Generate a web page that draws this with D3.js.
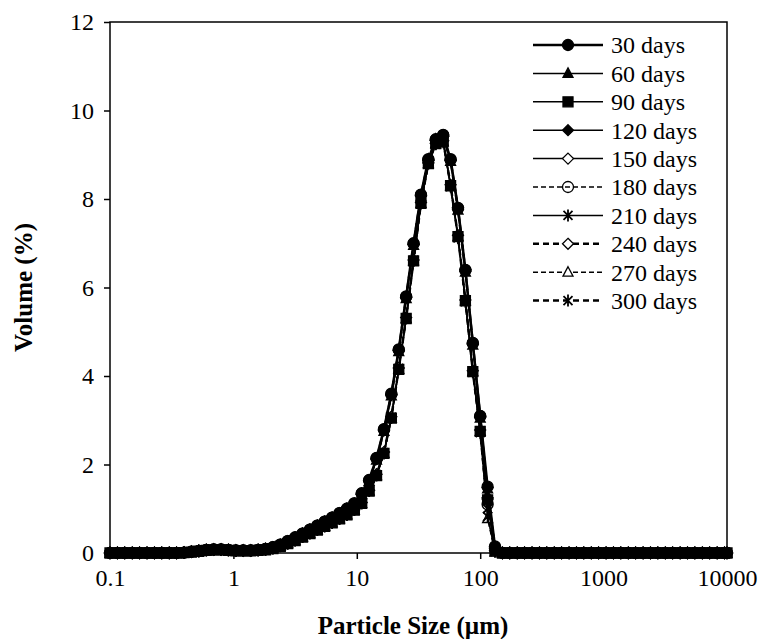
<!DOCTYPE html>
<html>
<head>
<meta charset="utf-8">
<script src="https://cdn.jsdelivr.net/npm/d3@7"></script>
<style>
  body { margin: 0; background: #fff; }
  svg { display: block; font-family: "Liberation Serif", "Times New Roman", serif; }
</style>
</head>
<body>
<div id="chart"></div>
<script>
// particle size classes (um)
var sizes = [0.1,0.1148,0.1318,0.1514,0.1738,0.1995,0.2291,0.2630,0.3020,0.3467,
  0.3981,0.4571,0.5248,0.6026,0.6918,0.7943,0.9120,1.047,1.202,1.380,
  1.585,1.820,2.089,2.399,2.754,3.162,3.631,4.169,4.786,5.495,
  6.310,7.244,8.318,9.550,10.96,12.59,14.45,16.60,19.05,21.88,
  25.12,28.84,33.11,38.02,43.65,50.12,57.54,66.07,75.86,87.10,
  100.0,114.8,131.8,151.4,173.8,199.5,229.1,263.0,302.0,346.7,
  398.1,457.1,524.8,602.6,691.8,794.3,912.0,1047,1202,1380,
  1585,1820,2089,2399,2754,3162,3631,4169,4786,5495,
  6310,7244,8318,9550,10000];

var labels = ["30 days","60 days","90 days","120 days","150 days","180 days","210 days","240 days","270 days","300 days"];

var d30 = [0,0,0,0,0,0,0,0,0,0,
  0.01,0.03,0.05,0.07,0.08,0.08,0.07,0.06,0.06,0.06,0.07,0.09,0.13,0.19,0.27,0.35,0.44,0.53,0.62,0.71,
  0.80,0.90,1.00,1.12,1.35,1.65,2.15,2.80,3.60,4.60,5.80,7.00,8.10,8.90,9.35,9.45,8.90,7.80,6.40,4.75,
  3.10,1.50,0.15,
  0,0,0,0,0,0,0,0,0,0,0,0,0,0,0,0,0,0,0,0,0,0,0,0,0,0,0,0,0,0,0,0];
var d60 = [0,0,0,0,0,0,0,0,0,0,
  0.01,0.03,0.05,0.07,0.08,0.08,0.07,0.06,0.06,0.06,0.07,0.09,0.12,0.18,0.26,0.34,0.43,0.52,0.61,0.70,
  0.79,0.89,0.99,1.10,1.32,1.62,2.10,2.75,3.55,4.55,5.75,6.95,8.05,8.90,9.35,9.40,8.85,7.75,6.35,4.70,
  3.05,1.45,0.12,
  0,0,0,0,0,0,0,0,0,0,0,0,0,0,0,0,0,0,0,0,0,0,0,0,0,0,0,0,0,0,0,0];
var d90 = [0,0,0,0,0,0,0,0,0,0,
  0.01,0.02,0.04,0.06,0.07,0.07,0.06,0.05,0.05,0.05,0.06,0.07,0.10,0.15,0.21,0.28,0.36,0.44,0.52,0.60,
  0.68,0.77,0.86,0.97,1.12,1.40,1.75,2.25,3.05,4.15,5.30,6.60,7.90,8.80,9.25,9.30,8.30,7.15,5.70,4.10,
  2.75,1.20,0.05,
  0,0,0,0,0,0,0,0,0,0,0,0,0,0,0,0,0,0,0,0,0,0,0,0,0,0,0,0,0,0,0,0];
var d120 = [0,0,0,0,0,0,0,0,0,0,
  0.01,0.03,0.05,0.07,0.08,0.08,0.07,0.06,0.06,0.06,0.07,0.09,0.13,0.18,0.26,0.35,0.44,0.53,0.62,0.71,
  0.80,0.90,1.00,1.11,1.33,1.63,2.12,2.78,3.58,4.58,5.78,6.98,8.08,8.88,9.33,9.42,8.88,7.80,6.40,4.72,
  3.08,1.48,0.14,
  0,0,0,0,0,0,0,0,0,0,0,0,0,0,0,0,0,0,0,0,0,0,0,0,0,0,0,0,0,0,0,0];
var d150 = [0,0,0,0,0,0,0,0,0,0,
  0.01,0.02,0.04,0.06,0.07,0.07,0.06,0.05,0.05,0.05,0.06,0.08,0.11,0.16,0.22,0.29,0.37,0.45,0.53,0.61,
  0.69,0.78,0.87,0.98,1.14,1.42,1.78,2.28,3.08,4.18,5.32,6.62,7.92,8.82,9.26,9.32,8.32,7.18,5.72,4.12,
  2.78,1.22,0.06,
  0,0,0,0,0,0,0,0,0,0,0,0,0,0,0,0,0,0,0,0,0,0,0,0,0,0,0,0,0,0,0,0];
var d180 = [0,0,0,0,0,0,0,0,0,0,
  0.01,0.03,0.05,0.07,0.08,0.08,0.07,0.06,0.06,0.06,0.07,0.09,0.13,0.19,0.27,0.35,0.44,0.53,0.62,0.71,
  0.80,0.90,1.00,1.12,1.34,1.64,2.14,2.79,3.59,4.59,5.79,6.99,8.09,8.89,9.34,9.44,8.89,7.79,6.39,4.74,
  3.09,1.10,0.12,
  0,0,0,0,0,0,0,0,0,0,0,0,0,0,0,0,0,0,0,0,0,0,0,0,0,0,0,0,0,0,0,0];
var d210 = [0,0,0,0,0,0,0,0,0,0,
  0.01,0.02,0.04,0.06,0.07,0.07,0.06,0.05,0.05,0.05,0.06,0.07,0.10,0.15,0.21,0.28,0.36,0.44,0.52,0.60,
  0.68,0.77,0.86,0.97,1.12,1.40,1.75,2.25,3.05,4.15,5.30,6.60,7.90,8.80,9.24,9.28,8.28,7.12,5.68,4.08,
  2.72,0.82,0.03,
  0,0,0,0,0,0,0,0,0,0,0,0,0,0,0,0,0,0,0,0,0,0,0,0,0,0,0,0,0,0,0,0];
var d240 = [0,0,0,0,0,0,0,0,0,0,
  0.01,0.03,0.05,0.07,0.08,0.08,0.07,0.06,0.06,0.06,0.07,0.09,0.12,0.18,0.26,0.34,0.43,0.52,0.61,0.70,
  0.79,0.89,0.99,1.11,1.33,1.63,2.13,2.77,3.57,4.57,5.77,6.97,8.07,8.87,9.32,9.42,8.87,7.77,6.37,4.73,
  3.07,1.25,0.10,
  0,0,0,0,0,0,0,0,0,0,0,0,0,0,0,0,0,0,0,0,0,0,0,0,0,0,0,0,0,0,0,0];
var d270 = [0,0,0,0,0,0,0,0,0,0,
  0.01,0.02,0.04,0.06,0.07,0.07,0.06,0.05,0.05,0.05,0.06,0.07,0.10,0.15,0.21,0.28,0.36,0.44,0.52,0.60,
  0.68,0.77,0.86,0.97,1.12,1.40,1.75,2.25,3.05,4.15,5.30,6.60,7.90,8.80,9.25,9.30,8.30,7.15,5.70,4.10,
  2.75,0.78,0.02,
  0,0,0,0,0,0,0,0,0,0,0,0,0,0,0,0,0,0,0,0,0,0,0,0,0,0,0,0,0,0,0,0];
var d300 = [0,0,0,0,0,0,0,0,0,0,
  0.01,0.02,0.04,0.06,0.07,0.07,0.06,0.05,0.05,0.05,0.06,0.08,0.11,0.16,0.22,0.29,0.37,0.45,0.53,0.61,
  0.69,0.78,0.87,0.98,1.13,1.41,1.77,2.27,3.07,4.17,5.31,6.61,7.91,8.81,9.25,9.31,8.31,7.16,5.71,4.11,
  2.76,1.00,0.04,
  0,0,0,0,0,0,0,0,0,0,0,0,0,0,0,0,0,0,0,0,0,0,0,0,0,0,0,0,0,0,0,0];

var xTicks = [0.1, 1, 10, 100, 1000, 10000];
var yTicks = [0, 2, 4, 6, 8, 10, 12];

var seriesData = [d30, d60, d90, d120, d150, d180, d210, d240, d270, d300];
// marker / line look for each series, same order as labels
var styles = [
  {m: "circle",   fill: "#000", w: 2.5, dash: null},
  {m: "triangle", fill: "#000", w: 1.5, dash: null},
  {m: "square",   fill: "#000", w: 1.5, dash: null},
  {m: "diamond",  fill: "#000", w: 1.5, dash: null},
  {m: "diamond",  fill: "#fff", w: 1.5, dash: null},
  {m: "circle",   fill: "none", w: 1.5, dash: "5,3"},
  {m: "star",     fill: "none", w: 1.5, dash: null},
  {m: "diamond",  fill: "#fff", w: 2.5, dash: "6,4"},
  {m: "triangle", fill: "#fff", w: 1.5, dash: "5,3"},
  {m: "star",     fill: "none", w: 2.5, dash: "6,4"}
];

var width = 761, height = 639;
var plotL = 110, plotR = 727, plotT = 22, plotB = 553;

var x = d3.scaleLog().domain([0.1, 10000]).range([plotL, plotR]);
var y = d3.scaleLinear().domain([0, 12]).range([plotB, plotT]);

function markerPath(type) {
  if (type == "circle") return "M5.5,0A5.5,5.5 0 1,1 -5.5,0A5.5,5.5 0 1,1 5.5,0Z";
  if (type == "triangle") return "M0,-5.5L5,4L-5,4Z";
  if (type == "square") return "M-5,-5H5V5H-5Z";
  if (type == "diamond") return "M0,-5.5L5.5,0L0,5.5L-5.5,0Z";
  if (type == "star") return "M0,-6V6M-4.5,-4.5L4.5,4.5M-4.5,4.5L4.5,-4.5";
}

var svg = d3.select("#chart").append("svg")
    .attr("width", width)
    .attr("height", height);

svg.append("rect").attr("width", width).attr("height", height).attr("fill", "#fff");

// axes
var xAxis = svg.append("g")
    .attr("transform", "translate(0," + plotB + ")")
    .call(d3.axisBottom(x).tickValues(xTicks).tickFormat(d3.format("")).tickSize(6).tickPadding(10));
var yAxis = svg.append("g")
    .attr("transform", "translate(" + plotL + ",0)")
    .call(d3.axisLeft(y).tickValues(yTicks).tickSize(6).tickPadding(10));

[xAxis, yAxis].forEach(function(a) {
  a.select(".domain").remove();
  a.selectAll("line").attr("stroke", "#000").attr("stroke-width", 1.5);
  a.selectAll("text").attr("font-size", 24).attr("fill", "#000")
    .attr("font-family", "Liberation Serif, Times New Roman, serif");
});

svg.append("rect")
    .attr("x", plotL).attr("y", plotT)
    .attr("width", plotR - plotL).attr("height", plotB - plotT)
    .attr("fill", "none").attr("stroke", "#000").attr("stroke-width", 1.5);

// series (drawn last-to-first so the filled markers end up on top)
var line = d3.line()
    .x(function(d) { return x(d[0]); })
    .y(function(d) { return y(d[1]); });

for (var i = seriesData.length - 1; i >= 0; i--) {
  var st = styles[i];
  var vals = seriesData[i];
  var pts = sizes.map(function(s, j) { return [s, vals[j]]; });
  var g = svg.append("g");
  g.append("path")
    .datum(pts)
    .attr("d", line)
    .attr("fill", "none")
    .attr("stroke", "#000")
    .attr("stroke-width", st.w)
    .attr("stroke-dasharray", st.dash);
  g.selectAll(".mk")
    .data(pts)
    .enter().append("path")
    .attr("transform", function(d) { return "translate(" + x(d[0]) + "," + y(d[1]) + ")"; })
    .attr("d", markerPath(st.m))
    .attr("fill", st.fill)
    .attr("stroke", "#000")
    .attr("stroke-width", st.m == "star" ? 1.8 : 1.3);
}

// legend
var leg = svg.append("g");
labels.forEach(function(lab, i) {
  var st = styles[i];
  var ly = 45 + i * 28.4;
  leg.append("line")
    .attr("x1", 533).attr("x2", 603).attr("y1", ly).attr("y2", ly)
    .attr("stroke", "#000").attr("stroke-width", st.w)
    .attr("stroke-dasharray", st.dash);
  leg.append("path")
    .attr("transform", "translate(568," + ly + ")")
    .attr("d", markerPath(st.m))
    .attr("fill", st.fill)
    .attr("stroke", "#000")
    .attr("stroke-width", st.m == "star" ? 1.8 : 1.3);
  leg.append("text")
    .attr("x", 611).attr("y", ly)
    .attr("dy", "0.35em")
    .attr("font-size", 24)
    .text(lab);
});

// axis titles
svg.append("text")
    .attr("x", 413).attr("y", 634)
    .attr("text-anchor", "middle")
    .attr("font-size", 25).attr("font-weight", "bold")
    .text("Particle Size (µm)");
svg.append("text")
    .attr("transform", "translate(32," + ((plotT + plotB) / 2) + ") rotate(-90)")
    .attr("text-anchor", "middle")
    .attr("font-size", 25).attr("font-weight", "bold")
    .text("Volume (%)");
</script>
</body>
</html>
